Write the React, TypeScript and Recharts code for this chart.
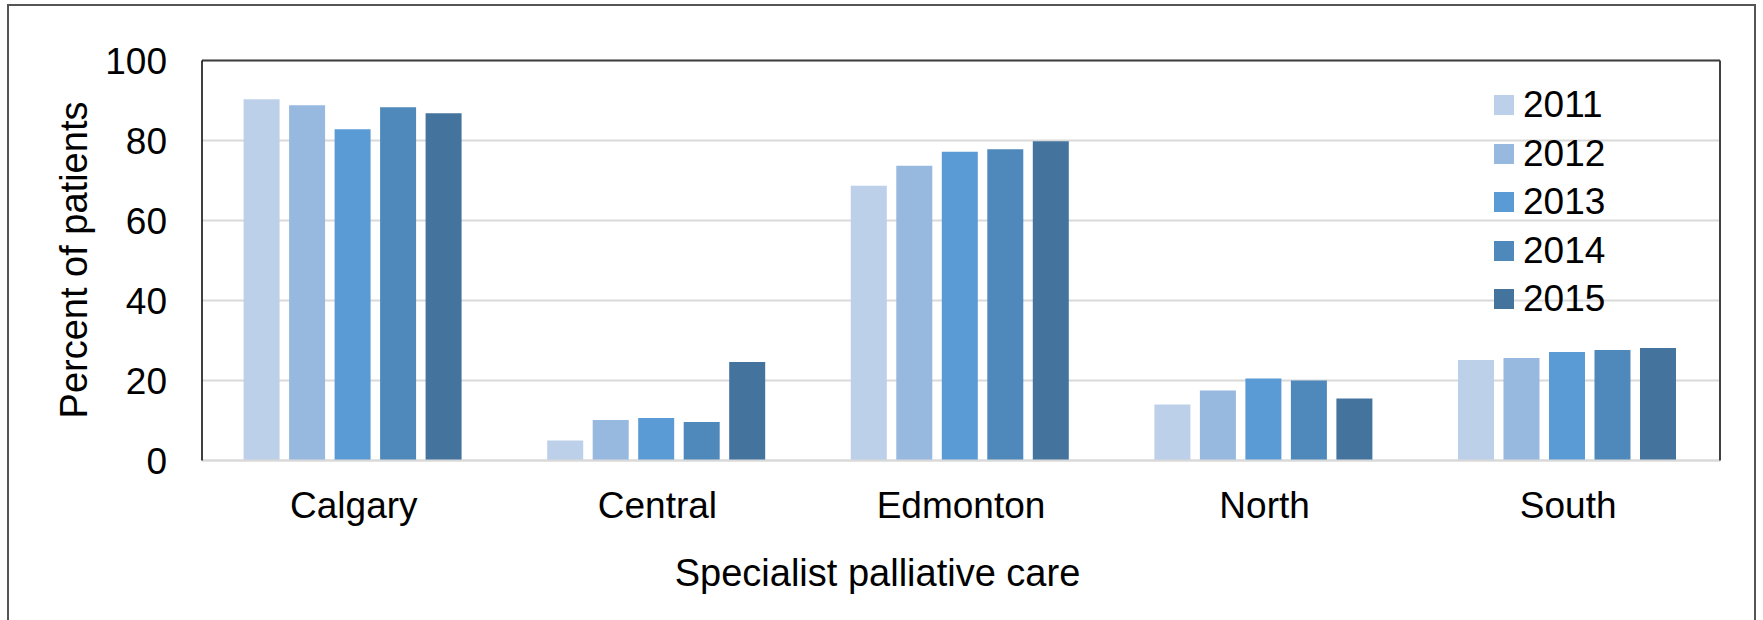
import { Bar, BarChart, CartesianGrid, Legend, ReferenceLine, XAxis, YAxis } from "recharts"

const regions = ["Calgary", "Central", "Edmonton", "North", "South"]
const years = ["2011", "2012", "2013", "2014", "2015"]
const y2011 = [90.3, 5.0, 68.7, 14.0, 25.1]
const y2012 = [88.8, 10.1, 73.7, 17.5, 25.6]
const y2013 = [82.8, 10.6, 77.2, 20.5, 27.1]
const y2014 = [88.3, 9.6, 77.8, 20.0, 27.6]
const y2015 = [86.8, 24.6, 79.8, 15.5, 28.1]
const yTicks = [0, 20, 40, 60, 80, 100]
const colors = ["#bdd0e9", "#97b8df", "#5b9bd5", "#4f88bb", "#44739e"]

const series = [y2011, y2012, y2013, y2014, y2015]
const data = regions.map((region, i) => {
  const row: Record<string, string | number> = { region }
  years.forEach((yr, j) => {
    row[yr] = series[j][i]
  })
  return row
})

const font = "'Liberation Sans', Arial, sans-serif"

function renderLegend(props: any) {
  const { payload } = props
  return (
    <div style={{ fontFamily: font, fontSize: 37, color: "#000" }}>
      {payload.map((entry: any) => (
        <div key={entry.value} style={{ height: 48.5, display: "flex", alignItems: "center" }}>
          <span style={{ width: 20, height: 20, background: entry.color, marginRight: 9, display: "inline-block" }} />
          <span>{entry.value}</span>
        </div>
      ))}
    </div>
  )
}

export default function App() {
  return (
    <div style={{ position: "absolute", left: 0, top: 0, width: 1763, height: 620, overflow: "hidden", background: "#fff" }}>
      <div
        style={{
          position: "absolute",
          left: 7,
          top: 4,
          width: 1749,
          height: 700,
          border: "2px solid #555",
          boxSizing: "border-box",
        }}
      />
      <div style={{ position: "absolute", left: 0, top: 0 }}>
        <BarChart
          width={1763}
          height={620}
          data={data}
          margin={{ top: 60.5, right: 42, left: 0, bottom: 99.5 }}
          barCategoryGap="13.7%"
          barGap={9.5}
        >
          <CartesianGrid vertical={false} stroke="#d9d9d9" strokeWidth={2} />
          <XAxis
            dataKey="region"
            height={60}
            axisLine={{ stroke: "#d9d9d9", strokeWidth: 2 }}
            tickLine={false}
            tickSize={0}
            tickMargin={31}
            tick={{ fill: "#000", fontSize: 37, fontFamily: font }}
            label={{
              content: () => (
                <text x={877.5} y={586} textAnchor="middle" fill="#000" fontSize={38} fontFamily={font}>
                  Specialist palliative care
                </text>
              ),
            }}
          />
          <YAxis
            width={202}
            domain={[0, 100]}
            ticks={yTicks}
            interval={0}
            axisLine={{ stroke: "#000", strokeWidth: 1.5 }}
            tickLine={false}
            tickSize={0}
            tickMargin={35}
            tick={{ fill: "#000", fontSize: 37, fontFamily: font }}
            label={{
              content: () => (
                <text
                  x={87}
                  y={260}
                  transform="rotate(-90 87 260)"
                  textAnchor="middle"
                  fill="#000"
                  fontSize={38}
                  fontFamily={font}
                >
                  Percent of patients
                </text>
              ),
            }}
          />
          <YAxis
            yAxisId="right"
            orientation="right"
            width={1}
            domain={[0, 100]}
            tick={false}
            tickLine={false}
            axisLine={{ stroke: "#404040", strokeWidth: 2 }}
          />
          <ReferenceLine y={100} stroke="#404040" strokeWidth={2} />
          <Legend
            layout="horizontal"
            align="center"
            verticalAlign="middle"
            content={renderLegend}
            wrapperStyle={{ left: 1494, top: 80.75, width: 200, height: 250 }}
          />
          {years.map((yr, j) => (
            <Bar key={yr} dataKey={yr} fill={colors[j]} isAnimationActive={false} />
          ))}
        </BarChart>
      </div>
    </div>
  )
}
